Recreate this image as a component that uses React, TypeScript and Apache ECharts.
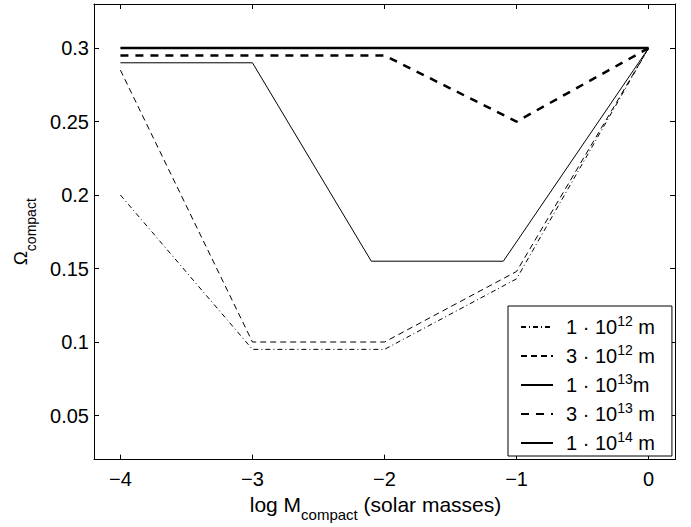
import React, { useEffect, useRef } from "react";
import * as echarts from "echarts";

const X_TICKS = [-4, -3, -2, -1, 0];
const Y_TICKS = [0.05, 0.1, 0.15, 0.2, 0.25, 0.3];

const NAMES = ["1e12", "3e12", "1e13", "3e13", "1e14"];
const LEGEND_LABELS = [
  "{b|1 · 10}{s|12}{b| m}",
  "{b|3 · 10}{s|12}{b| m}",
  "{b|1 · 10}{s|13}{b|m}",
  "{b|3 · 10}{s|13}{b| m}",
  "{b|1 · 10}{s|14}{b| m}",
];

const X_1E12 = [-4, -3, -2, -1, 0];
const Y_1E12 = [0.2, 0.095, 0.095, 0.143, 0.3];
const X_3E12 = [-4, -3, -2, -1, 0];
const Y_3E12 = [0.285, 0.1, 0.1, 0.148, 0.3];
const X_1E13 = [-4, -3, -2.1, -1.1, 0];
const Y_1E13 = [0.29, 0.29, 0.155, 0.155, 0.3];
const X_3E13 = [-4, -2, -1, 0];
const Y_3E13 = [0.295, 0.295, 0.25, 0.3];
const X_1E14 = [-4, 0];
const Y_1E14 = [0.3, 0.3];

const FONT = "'Liberation Sans', Arial, sans-serif";

const pairs = (xs: number[], ys: number[]) => xs.map((x, i) => [x, ys[i]]);

export default function App() {
  const ref = useRef<HTMLDivElement>(null);
  useEffect(() => {
    if (!ref.current) return;
    const chart = echarts.init(ref.current, undefined, { renderer: "svg" });
    const styles: any[] = [
      { width: 1, type: [5, 3, 1, 3] },
      { width: 1, type: [6, 4] },
      { width: 1, type: "solid" },
      { width: 2.5, type: [8, 7] },
      { width: 2.5, type: "solid" },
    ];
    const datasets = [
      pairs(X_1E12, Y_1E12),
      pairs(X_3E12, Y_3E12),
      pairs(X_1E13, Y_1E13),
      pairs(X_3E13, Y_3E13),
      pairs(X_1E14, Y_1E14),
    ];
    const axisCommon = {
      axisLine: { show: true, onZero: false, lineStyle: { color: "#000", width: 1 } },
      axisTick: { inside: true, length: 5, lineStyle: { color: "#000", width: 1 } },
      splitLine: { show: false },
    };
    const option: any = {
      animation: false,
      backgroundColor: "#fff",
      textStyle: { fontFamily: FONT },
      grid: { left: 94, top: 4, right: 16, bottom: 66, containLabel: false },
      xAxis: [
        {
          type: "value",
          min: -4.2,
          max: 0.2,
          position: "bottom",
          ...axisCommon,
          axisTick: { ...axisCommon.axisTick, customValues: X_TICKS },
          axisLabel: {
            customValues: X_TICKS,
            formatter: (v: number) => String(v).replace("-", "\u2212"),
            color: "#000",
            fontSize: 20,
            fontFamily: FONT,
            margin: 9,
          },
          name: "{b|log M}{s|compact}{b| (solar masses)}",
          nameLocation: "middle",
          nameGap: 24,
          nameTextStyle: {
            padding: [0, 18, 0, 0],
            rich: {
              b: { fontSize: 21, lineHeight: 36, color: "#000", fontFamily: FONT },
              s: { fontSize: 15, lineHeight: 15, verticalAlign: "bottom", color: "#000", fontFamily: FONT },
            },
          },
        },
        {
          type: "value",
          min: -4.2,
          max: 0.2,
          position: "top",
          ...axisCommon,
          axisTick: { ...axisCommon.axisTick, customValues: X_TICKS },
          axisLabel: { show: false },
        },
      ],
      yAxis: [
        {
          type: "value",
          min: 0.02,
          max: 0.33,
          position: "left",
          ...axisCommon,
          axisTick: { ...axisCommon.axisTick, customValues: Y_TICKS },
          axisLabel: {
            customValues: Y_TICKS,
            formatter: (v: number) => String(Math.round(v * 100) / 100),
            color: "#000",
            fontSize: 20,
            fontFamily: FONT,
            margin: 5,
          },
          name: "{o|\u03A9}{s|compact}",
          nameLocation: "middle",
          nameRotate: 90,
          nameGap: 56,
          nameTextStyle: {
            rich: {
              o: { fontSize: 19, lineHeight: 36, color: "#000", fontFamily: FONT },
              s: { fontSize: 14, lineHeight: 14, verticalAlign: "bottom", color: "#000", fontFamily: FONT },
            },
          },
        },
        {
          type: "value",
          min: 0.02,
          max: 0.33,
          position: "right",
          ...axisCommon,
          axisTick: { ...axisCommon.axisTick, customValues: Y_TICKS },
          axisLabel: { show: false },
        },
      ],
      legend: {
        data: NAMES,
        orient: "vertical",
        left: 508,
        top: 306,
        backgroundColor: "#fff",
        borderColor: "#000",
        borderWidth: 1,
        borderRadius: 0,
        padding: [8, 17, 3, 12],
        itemWidth: 32,
        itemHeight: 14,
        itemGap: 6,
        itemStyle: { opacity: 0, color: "rgba(0,0,0,0)", borderWidth: 0 },
        formatter: (name: string) => LEGEND_LABELS[NAMES.indexOf(name)],
        textStyle: {
          padding: [0, 0, 0, 8],
          rich: {
            b: { fontSize: 20, lineHeight: 26, color: "#000", fontFamily: FONT },
            s: { fontSize: 14, lineHeight: 14, verticalAlign: "top", color: "#000", fontFamily: FONT },
          },
        },
      },
      series: NAMES.map((name, i) => ({
        name,
        type: "line",
        xAxisIndex: 0,
        yAxisIndex: 0,
        symbol: "none",
        showSymbol: false,
        data: datasets[i],
        lineStyle: { color: "#000", ...styles[i] },
        itemStyle: { color: "#000" },
        z: 2 + i,
      })),
    };
    chart.setOption(option);
    return () => chart.dispose();
  }, []);
  return (
    <div
      ref={ref}
      style={{ position: "absolute", left: 0, top: 0, width: 691, height: 527 }}
    />
  );
}
